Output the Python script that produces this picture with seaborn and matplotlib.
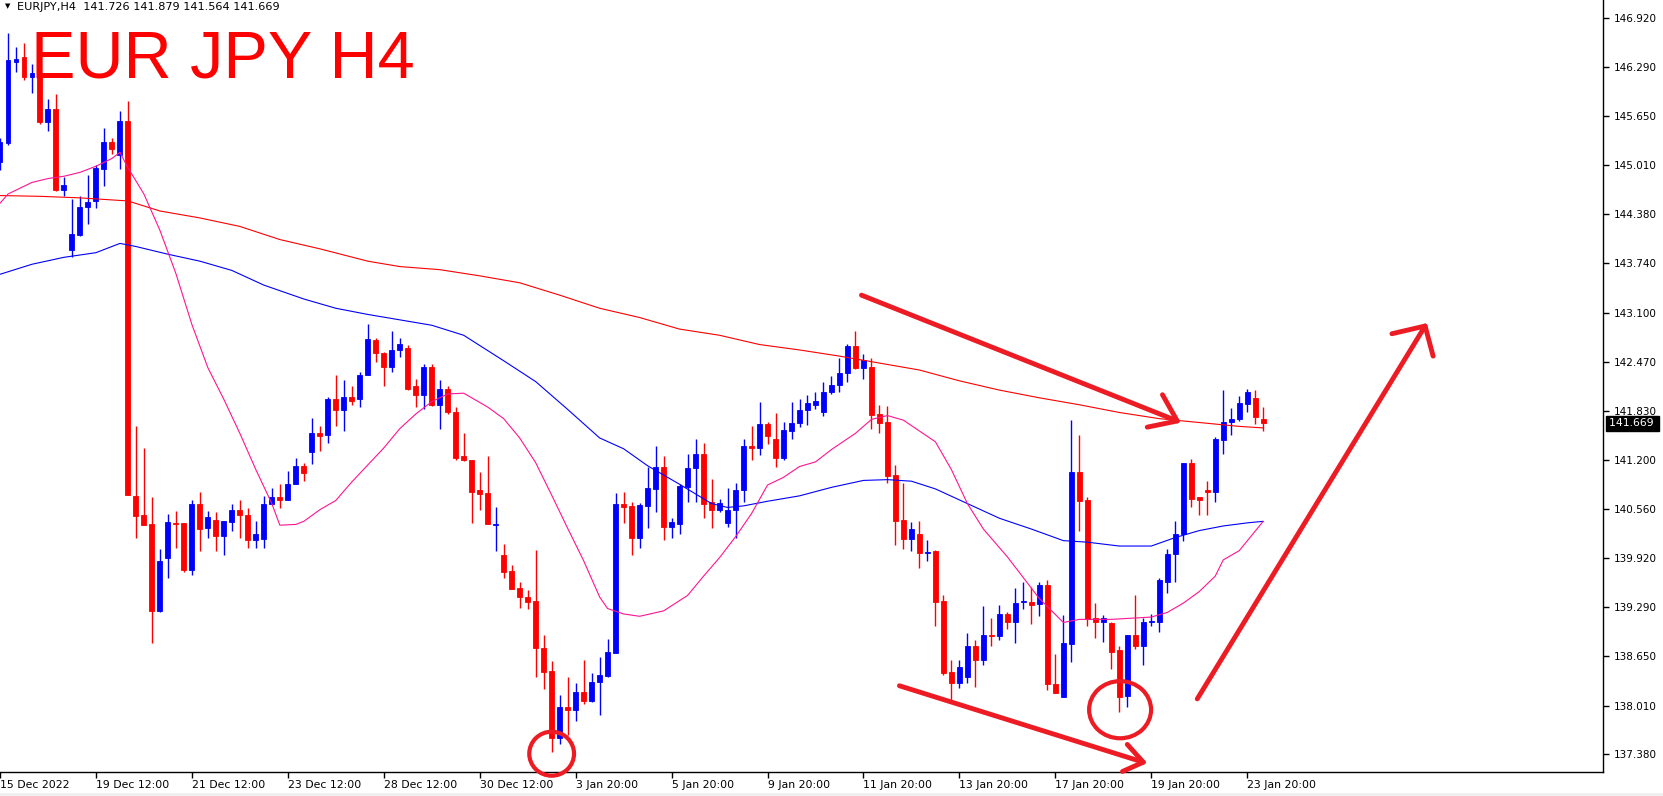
import numpy as np
import pandas as pd
import matplotlib
matplotlib.use("Agg")
import matplotlib.pyplot as plt
import matplotlib.transforms as mtransforms
from matplotlib.patches import Ellipse, Rectangle
import seaborn as sns

# EURJPY H4 candles (bar index 0 = first visible bar)
opens = [145.05, 145.30, 146.35, 146.41, 146.15, 146.21, 145.57, 145.74, 144.69, 143.91,
         144.11, 144.47, 144.55, 144.96, 145.31, 145.15, 145.58, 140.73, 140.48, 140.36,
         139.24, 139.93, 140.38, 140.38, 139.77, 140.62, 140.31, 140.42, 140.21, 140.39,
         140.55, 140.48, 140.16, 140.17, 140.63, 140.72, 140.68, 140.89, 141.12, 141.30,
         141.54, 141.52, 141.99, 141.84, 142.01, 141.99, 142.29, 142.75, 142.58, 142.40,
         142.62, 142.65, 142.15, 142.04, 142.40, 141.91, 142.12, 141.81, 141.24, 141.20,
         140.80, 140.77, 140.35, 139.96, 139.76, 139.53, 139.42, 139.37, 138.76, 138.46,
         137.59, 137.99, 137.95, 138.19, 138.07, 138.32, 138.40, 138.70, 140.62, 140.60,
         140.18, 140.60, 140.82, 141.10, 140.33, 140.36, 140.84, 141.09, 141.27, 140.65,
         140.55, 140.38, 140.55, 140.80, 141.37, 141.35, 141.66, 141.46, 141.22, 141.57,
         141.68, 141.84, 141.91, 141.82, 142.08, 142.16, 142.32, 142.67, 142.38, 142.40,
         141.79, 141.69, 141.00, 140.42, 140.17, 140.24, 139.99, 140.01, 139.37, 138.45,
         138.31, 138.39, 138.79, 138.60, 138.93, 138.92, 139.20, 139.09, 139.35, 139.35,
         139.33, 139.58, 138.29, 138.12, 138.81, 141.04, 140.67, 139.15, 139.09, 139.08,
         138.73, 138.14, 138.93, 138.79, 139.09, 139.10, 139.62, 139.98, 140.23, 141.15,
         140.71, 140.80, 140.78, 141.45, 141.69, 141.72, 141.92, 142.00, 141.726]
highs = [145.36, 146.73, 146.54, 146.60, 146.32, 146.21, 145.87, 145.94, 144.86, 144.58,
         144.61, 144.89, 145.02, 145.49, 145.37, 145.72, 145.84, 141.63, 141.35, 140.72,
         140.04, 140.50, 140.53, 140.38, 140.67, 140.78, 140.53, 140.52, 140.41, 140.62,
         140.68, 140.57, 140.41, 140.73, 140.83, 140.88, 141.05, 141.22, 141.16, 141.74,
         141.64, 142.01, 142.29, 142.23, 142.15, 142.34, 142.95, 142.77, 142.59, 142.87,
         142.78, 142.68, 142.25, 142.44, 142.44, 142.23, 142.15, 141.88, 141.54, 141.20,
         141.04, 141.25, 140.58, 140.11, 139.84, 139.62, 139.51, 140.03, 138.93, 138.59,
         138.15, 138.38, 138.31, 138.60, 138.43, 138.64, 138.88, 140.77, 140.78, 140.65,
         140.64, 141.11, 141.38, 141.24, 140.44, 140.88, 141.27, 141.47, 141.41, 140.95,
         140.69, 140.83, 140.90, 141.46, 141.63, 141.95, 141.69, 141.80, 141.69, 141.95,
         141.98, 142.04, 142.07, 142.21, 142.28, 142.51, 142.70, 142.87, 142.57, 142.51,
         141.91, 141.89, 141.13, 140.90, 140.39, 140.41, 140.16, 140.03, 139.44, 138.61,
         138.61, 138.95, 138.86, 139.30, 139.15, 139.32, 139.23, 139.53, 139.61, 139.55,
         139.62, 139.64, 138.68, 139.19, 141.71, 141.52, 140.72, 139.34, 139.19, 139.09,
         138.78, 138.93, 139.45, 139.15, 139.20, 139.67, 140.04, 140.41, 141.16, 141.21,
         140.72, 140.92, 141.49, 142.10, 141.87, 142.02, 142.11, 142.10, 141.879]
lows = [144.95, 145.27, 146.22, 146.12, 145.95, 145.55, 145.46, 144.68, 144.61, 143.82,
        144.09, 144.25, 144.46, 144.74, 145.16, 144.96, 140.74, 140.18, 140.35, 138.82,
        139.22, 139.66, 140.06, 139.75, 139.71, 140.01, 140.18, 140.01, 139.97, 140.27,
        140.19, 140.06, 140.05, 140.05, 140.62, 140.57, 140.67, 140.88, 140.92, 141.14,
        141.31, 141.41, 141.64, 141.57, 141.91, 141.88, 142.29, 142.46, 142.15, 142.34,
        142.53, 142.10, 141.88, 141.85, 141.90, 141.59, 141.79, 141.20, 141.18, 140.38,
        140.55, 140.36, 140.01, 139.66, 139.52, 139.28, 139.26, 138.38, 138.23, 137.41,
        137.52, 137.63, 137.82, 138.04, 138.06, 137.89, 138.38, 138.70, 140.38, 139.97,
        140.06, 140.31, 140.52, 140.16, 140.19, 140.23, 140.65, 140.65, 140.44, 140.31,
        140.52, 140.33, 140.19, 140.65, 141.19, 141.26, 141.40, 141.10, 141.20, 141.46,
        141.62, 141.65, 141.86, 141.77, 142.05, 142.08, 142.20, 142.37, 142.25, 141.60,
        141.54, 140.90, 140.09, 140.04, 140.02, 139.80, 139.89, 139.04, 138.41, 138.09,
        138.24, 138.31, 138.26, 138.54, 138.79, 138.86, 139.00, 138.83, 139.26, 139.07,
        139.17, 138.21, 138.18, 138.12, 138.58, 140.27, 139.05, 138.89, 138.84, 138.49,
        137.93, 137.99, 138.75, 138.54, 139.04, 138.97, 139.47, 139.62, 140.14, 140.58,
        140.48, 140.48, 140.65, 141.27, 141.52, 141.70, 141.81, 141.66, 141.564]
closes = [145.31, 146.37, 146.39, 146.15, 146.21, 145.57, 145.74, 144.69, 144.76, 144.12,
          144.47, 144.54, 144.98, 145.31, 145.22, 145.58, 140.74, 140.47, 140.35, 139.24,
          139.89, 140.39, 140.36, 139.77, 140.62, 140.30, 140.46, 140.21, 140.40, 140.55,
          140.48, 140.16, 140.23, 140.63, 140.72, 140.68, 140.89, 141.12, 141.02, 141.54,
          141.51, 141.99, 141.84, 142.01, 141.96, 142.30, 142.76, 142.58, 142.40, 142.62,
          142.70, 142.12, 142.04, 142.40, 141.91, 142.12, 141.82, 141.22, 141.19, 140.78,
          140.75, 140.36, 140.36, 139.75, 139.52, 139.42, 139.36, 138.76, 138.45, 137.59,
          137.99, 137.95, 138.19, 138.07, 138.32, 138.41, 138.71, 140.62, 140.58, 140.18,
          140.61, 140.83, 141.11, 140.33, 140.39, 140.86, 141.09, 141.27, 140.63, 140.55,
          140.64, 140.55, 140.80, 141.37, 141.35, 141.66, 141.51, 141.22, 141.58, 141.68,
          141.84, 141.93, 141.96, 142.08, 142.16, 142.32, 142.67, 142.38, 142.49, 141.78,
          141.68, 140.99, 140.41, 140.17, 140.30, 139.99, 140.00, 139.36, 138.43, 138.31,
          138.51, 138.79, 138.60, 138.93, 138.92, 139.20, 139.09, 139.34, 139.37, 139.32,
          139.58, 138.29, 138.18, 138.82, 141.04, 140.66, 139.14, 139.09, 139.15, 138.71,
          138.12, 138.93, 138.79, 139.09, 139.11, 139.64, 139.98, 140.23, 141.15, 140.69,
          140.68, 140.78, 141.47, 141.69, 141.72, 141.93, 142.07, 141.75, 141.669]

# moving averages (bar index, price)
slow_bars = [0, 5, 10, 16, 20, 25, 30, 35, 40, 46, 50, 55, 60, 65, 70, 75, 80, 85, 90, 95,
             100, 105, 110, 115, 120, 125, 130, 135, 140, 145, 150, 155, 158]
slow_ma = [144.62, 144.61, 144.59, 144.55, 144.42, 144.33, 144.22, 144.05, 143.93, 143.77,
           143.70, 143.66, 143.58, 143.49, 143.33, 143.16, 143.04, 142.89, 142.81, 142.69,
           142.62, 142.54, 142.45, 142.36, 142.22, 142.10, 142.00, 141.91, 141.81, 141.73,
           141.68, 141.63, 141.61]
mid_bars = [0, 4, 8, 12, 15, 17, 21, 25, 29, 33, 38, 42, 46, 50, 54, 58, 63, 67, 71, 75,
            78, 81, 85, 89, 91, 93, 96, 100, 104, 108, 111, 114, 117, 121, 125, 129, 133, 136, 140, 144,
            147, 150, 153, 156, 158]
mid_ma = [143.60, 143.73, 143.82, 143.88, 144.00, 143.96, 143.86, 143.77, 143.65, 143.46,
          143.28, 143.16, 143.08, 143.01, 142.94, 142.81, 142.48, 142.21, 141.85, 141.48,
          141.34, 141.12, 140.88, 140.63, 140.58, 140.60, 140.66, 140.73, 140.84, 140.93,
          140.94, 140.92, 140.82, 140.63, 140.44, 140.30, 140.15, 140.13, 140.08, 140.08,
          140.19, 140.28, 140.34, 140.38, 140.40]
fast_bars = [0, 1, 4, 6, 8, 10, 12, 14, 15, 16, 18, 20, 22, 24, 26, 28, 30, 32, 34, 35,
             37, 38, 40, 42, 44, 46, 48, 50, 52, 54, 56, 58, 61, 63, 65, 67, 69, 71, 73, 75,
             76, 78, 80, 83, 86, 88, 90, 92, 94, 96, 98, 100, 102, 104, 107, 109, 111, 113, 117, 119,
             121, 123, 126, 128, 130, 133, 135, 139, 144, 146, 148, 150, 152, 153, 155, 158]
fast_ma = [144.52, 144.64, 144.79, 144.84, 144.87, 144.92, 145.00, 145.10, 145.18, 144.98,
           144.64, 144.17, 143.61, 142.95, 142.39, 141.98, 141.54, 141.07, 140.63, 140.35,
           140.36, 140.40, 140.55, 140.67, 140.91, 141.13, 141.35, 141.60, 141.79, 141.95,
           142.05, 142.06, 141.88, 141.73, 141.48, 141.16, 140.74, 140.31, 139.89, 139.42,
           139.27, 139.20, 139.17, 139.24, 139.44, 139.69, 139.93, 140.20, 140.50, 140.87,
           140.97, 141.11, 141.17, 141.33, 141.54, 141.72, 141.77, 141.71, 141.43, 141.07,
           140.63, 140.30, 139.94, 139.67, 139.40, 139.09, 139.13, 139.13, 139.16, 139.22,
           139.34, 139.49, 139.69, 139.90, 140.02, 140.40]

tick_bars = [0, 12, 24, 36, 48, 60, 72, 84, 96, 108, 120, 132, 144, 156]
tick_labels = ["15 Dec 2022", "19 Dec 12:00", "21 Dec 12:00", "23 Dec 12:00", "28 Dec 12:00",
               "30 Dec 12:00", "3 Jan 20:00", "5 Jan 20:00", "9 Jan 20:00", "11 Jan 20:00",
               "13 Jan 20:00", "17 Jan 20:00", "19 Jan 20:00", "23 Jan 20:00"]
price_ticks = [146.920, 146.290, 145.650, 145.010, 144.380, 143.740, 143.100, 142.470,
               141.830, 141.200, 140.560, 139.920, 139.290, 138.650, 138.010, 137.380]
last_price = 141.669

df = pd.DataFrame({"open": opens, "high": highs, "low": lows, "close": closes})
df["bar"] = np.arange(len(df))
df["color"] = np.where(df["close"] >= df["open"], "#0000ff", "#ff0000")

sns.set_style("white")
plt.rcParams["font.family"] = ["DejaVu Sans"]

fig = plt.figure(figsize=(16.63, 7.96), dpi=100)
ax = fig.add_axes([0, 24 / 796, 1603 / 1663, 772 / 796])

# candles
ax.vlines(df["bar"], df["low"], df["high"], colors=df["color"], lw=1.0, zorder=2)
ax.bar(df["bar"], df["close"] - df["open"], bottom=df["open"], width=0.62,
       color=df["color"], edgecolor=df["color"], linewidth=0.6, zorder=3)

# moving averages
sns.lineplot(x=slow_bars, y=slow_ma, color="#ff0000", lw=0.8, ax=ax, zorder=4)
sns.lineplot(x=mid_bars, y=mid_ma, color="#0000ff", lw=0.8, ax=ax, zorder=4)
sns.lineplot(x=fast_bars, y=fast_ma, color="#ff1493", lw=0.8, ax=ax, zorder=4)

ax.set_xlim(0.125, 200.5)
ax.set_ylim(137.153, 147.153)

# hand drawn marks
ann = "#ed1c24"
akw = dict(color=ann, lw=3.5, solid_capstyle="round", solid_joinstyle="round",
           clip_on=False, zorder=6)
ax.plot([107.75, 147.25], [143.33, 141.70], **akw)
ax.plot([145.4, 147.25, 143.5], [142.04, 141.70, 141.62], **akw)
ax.plot([112.5, 143.0], [138.27, 137.28], **akw)
ax.plot([141.0, 143.0, 140.4], [137.51, 137.28, 137.16], **akw)
ax.plot([149.75, 178.25], [138.10, 142.93], **akw)
ax.plot([174.1, 178.25, 179.25], [142.83, 142.93, 142.54], **akw)
for cx, cy, w, h in [(69.0, 137.39, 5.6, 0.57), (140.1, 137.96, 7.75, 0.74)]:
    ax.add_patch(Ellipse((cx, cy), w, h, fill=False, ec=ann, lw=3.0,
                         clip_on=False, zorder=6))

# axes styling like the terminal
for s in ["top", "left"]:
    ax.spines[s].set_visible(False)
for s in ["right", "bottom"]:
    ax.spines[s].set_color("black")
    ax.spines[s].set_linewidth(1.0)

ax.set_xticks(tick_bars)
ax.set_xticklabels(tick_labels)
offset = mtransforms.ScaledTranslation(2 / 100, 0, fig.dpi_scale_trans)
for lab in ax.get_xticklabels():
    lab.set_horizontalalignment("left")
    lab.set_transform(lab.get_transform() + offset)
ax.tick_params(axis="x", direction="out", length=4, width=1, pad=2, labelsize=7.8,
               colors="black", bottom=True)

ax.yaxis.tick_right()
ax.set_yticks(price_ticks)
ax.set_yticklabels([f"{p:.3f}" for p in price_ticks])
ax.tick_params(axis="y", direction="out", length=4, width=1, pad=4, labelsize=7.5,
               colors="black", right=True, left=False)
ax.set_xlabel("")
ax.set_ylabel("")
ax.grid(False)

# current price tag
trans = mtransforms.blended_transform_factory(ax.transAxes, ax.transData)
ax.text(1.0035, last_price, f"{last_price:.3f} ", transform=trans, ha="left", va="center",
        color="white", fontsize=7.8,
        bbox=dict(boxstyle="square,pad=0.25", fc="black", ec="black"), zorder=7)

# header and title
fig.text(5 / 1663, 1 - 6 / 796, "▼", fontsize=5, color="black", va="center")
fig.text(17 / 1663, 1 - 10 / 796, "EURJPY,H4  141.726 141.879 141.564 141.669",
         fontsize=8.1, color="black", va="baseline")
fig.text(31 / 1663, 1 - 78 / 796, "EUR JPY H4", fontsize=48, color="#ff0000",
         family="Liberation Sans", va="baseline")

fig.patches.append(Rectangle((0, 0), 1, 3 / 796, transform=fig.transFigure,
                             fc="#f0f0f0", ec="none"))

fig.savefig("out.png", dpi=100)
